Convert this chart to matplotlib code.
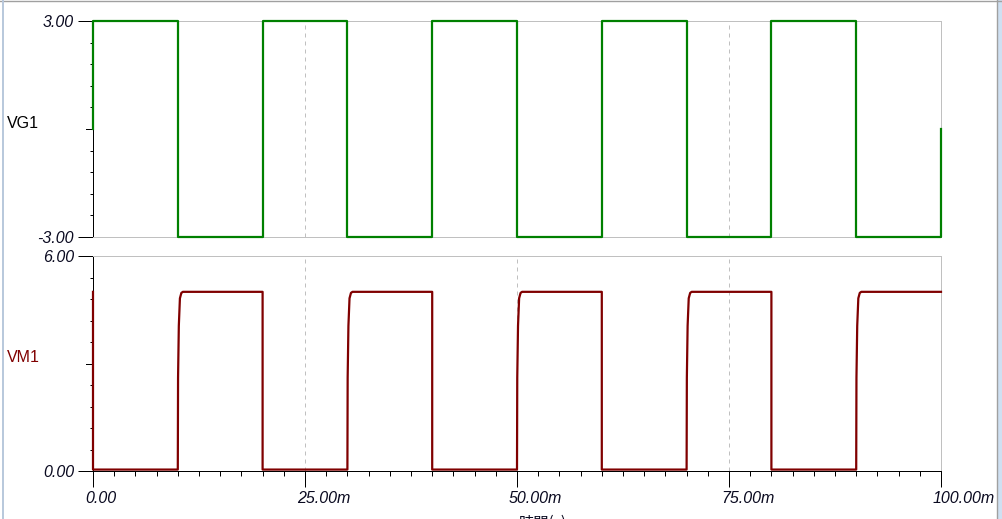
import matplotlib
matplotlib.use("Agg")
import matplotlib.pyplot as plt
import matplotlib.transforms as mtrans
from matplotlib.lines import Line2D
import numpy as np

# ---- data ----
vg1_time_ms = [0, 0, 10, 10, 20, 20, 30, 30, 40, 40, 50, 50, 60, 60, 70, 70, 80, 80, 90, 90, 100, 100]
vg1_volts = [0, 3, 3, -3, -3, 3, 3, -3, -3, 3, 3, -3, -3, 3, 3, -3, -3, 3, 3, -3, -3, 0]

vm1_start = [5.0, 0.04]
vm1_rise_ms = [10, 30, 50, 70, 90]
vm1_fall_ms = [20, 40, 60, 80]
vm1_rise_offset_ms = [0.0, 0.03, 0.12, 0.25, 0.42, 0.6]
vm1_rise_volts = [0.04, 2.6, 4.05, 4.82, 4.97, 5.0]
vm1_low, vm1_high = 0.04, 5.0

x_major = [0, 25, 50, 75, 100]
x_labels = ["0.00", "25.00m", "50.00m", "75.00m", "100.00m"]

# build VM1 trace
vm1_t = [0, 0]
vm1_v = list(vm1_start)
for i, r in enumerate(vm1_rise_ms):
    vm1_t += [r + o for o in vm1_rise_offset_ms]
    vm1_v += vm1_rise_volts
    if i < len(vm1_fall_ms):
        f = vm1_fall_ms[i]
        vm1_t += [f, f]
        vm1_v += [vm1_high, vm1_low]
vm1_t.append(100)
vm1_v.append(vm1_high)

W, H = 1002, 519
fig = plt.figure(figsize=(W / 100, H / 100), dpi=100)
fig.patch.set_facecolor("white")

def ax_rect(left, right, top, bottom):
    return [left / W, (H - bottom) / H, (right - left) / W, (bottom - top) / H]

ax1 = fig.add_axes(ax_rect(93, 941, 21, 237))
ax2 = fig.add_axes(ax_rect(93, 941, 256, 471))

GRAY = "#c0c0c0"
TXT = "#0a0a20"
px = 0.72  # one pixel in points
tickfont = dict(family="Liberation Sans", size=11.5, style="italic")

def style_axes(ax, ylo, yhi, black_bottom):
    ax.set_xlim(0, 100)
    ax.set_ylim(ylo, yhi)
    for s in ["top", "right"]:
        ax.spines[s].set_color(GRAY)
        ax.spines[s].set_linewidth(px)
    ax.spines["left"].set_color("black")
    ax.spines["left"].set_linewidth(px)
    ax.spines["bottom"].set_color("black" if black_bottom else GRAY)
    ax.spines["bottom"].set_linewidth(px)
    # y ticks
    ax.set_yticks([ylo, yhi])
    ax.set_yticklabels([f"{ylo:.2f}", f"{yhi:.2f}"], fontdict=tickfont, color=TXT)
    ax.set_yticks(list(np.linspace(ylo, yhi, 11)[1:-1]), minor=True)
    ax.tick_params(axis="y", which="major", direction="out", length=15 * px, width=px,
                   pad=4 * px, color="black")
    ax.tick_params(axis="y", which="minor", direction="out", length=3 * px, width=px,
                   color="black")
    # middle tick longer
    trans = mtrans.blended_transform_factory(ax.transAxes, ax.transData)
    mid = (ylo + yhi) / 2
    ax.add_line(Line2D([-7 / 848, 0], [mid, mid], transform=trans, color="black",
                       lw=px, clip_on=False))
    # vertical dashed grid
    for xv in [25, 50, 75]:
        ax.axvline(xv, color=GRAY, lw=px, ls=(0, (4, 4)), zorder=0.5)

style_axes(ax1, -3, 3, black_bottom=False)
style_axes(ax2, 0, 6, black_bottom=True)

ax1.set_xticks([])
ax2.set_xticks(x_major)
ax2.set_xticklabels([])
ax2.set_xticks(list(np.arange(0, 100.1, 2.5)), minor=True)
ax2.tick_params(axis="x", which="major", direction="out", length=16 * px, width=px, color="black")
ax2.tick_params(axis="x", which="minor", direction="out", length=5 * px, width=px, color="black")

# x tick labels: left aligned, slightly left of tick
off = mtrans.ScaledTranslation(-8 / 100, 0, fig.dpi_scale_trans)
xtrans = mtrans.blended_transform_factory(ax2.transData, fig.transFigure) + off
for xv, lab in zip(x_major, x_labels):
    ax2.text(xv, (H - 491) / H, lab, transform=xtrans, ha="left", va="top",
             color=TXT, clip_on=False, **tickfont)

# traces
ax1.plot(vg1_time_ms, vg1_volts, color="#008000", lw=1.6, clip_on=False, zorder=3)
ax2.plot(vm1_t, vm1_v, color="#800000", lw=1.6, clip_on=False, zorder=3)

# series labels
fig.text(7 / W, (H - 123) / H, "VG1", ha="left", va="center", color="black",
         family="Liberation Sans", size=11.5)
fig.text(7 / W, (H - 358) / H, "VM1", ha="left", va="center", color="#800000",
         family="Liberation Sans", size=11.5)

# x-axis title (cut off at bottom edge, as in the reference)
fig.text(519 / W, (H - 515) / H, "時間(s)", ha="left", va="top", color=TXT,
         family=["Noto Sans CJK JP", "DejaVu Sans"], size=11)

# window frame decorations
fig.add_artist(Line2D([0, 1], [1 - 0.5 / H, 1 - 0.5 / H], transform=fig.transFigure,
                      color="#a0a0a0", lw=1.0))
fig.add_artist(Line2D([2.5 / W, 2.5 / W], [0, 1], transform=fig.transFigure,
                      color="#b8c8dc", lw=1.4))
fig.add_artist(Line2D([996.5 / W, 996.5 / W], [0, 1], transform=fig.transFigure,
                      color="#a0a0a0", lw=1.0))
fig.add_artist(plt.Rectangle((997 / W, 0), 5 / W, 1, transform=fig.transFigure,
                             facecolor="#cfe0f2", edgecolor="none"))

fig.savefig("out.png", dpi=100, facecolor="white")
